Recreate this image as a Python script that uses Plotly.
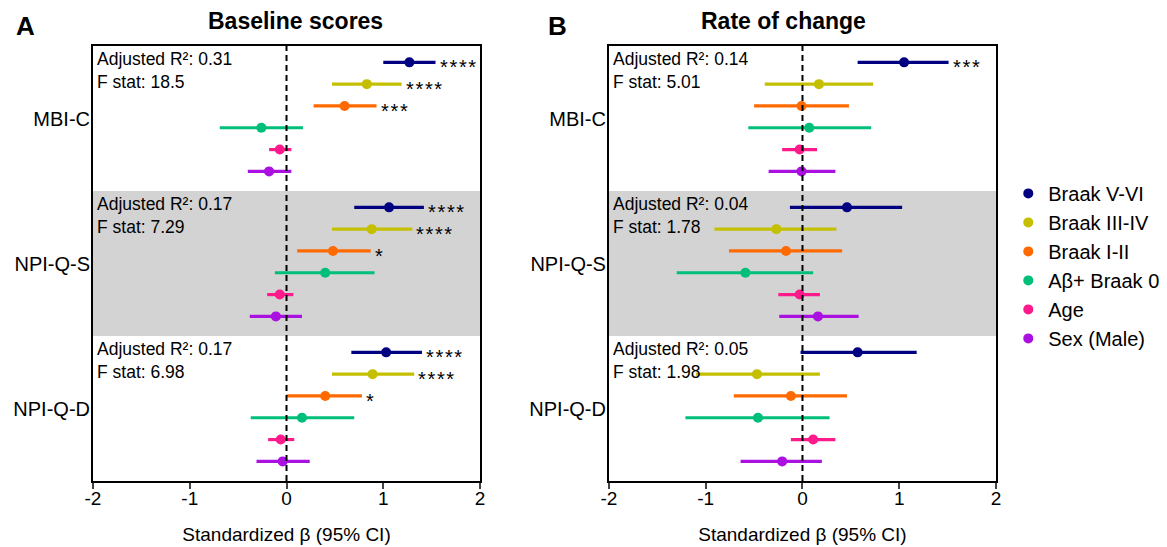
import plotly.graph_objects as go
from plotly.subplots import make_subplots

outcomes = ["MBI-C", "NPI-Q-S", "NPI-Q-D"]
predictors = ["Braak V-VI", "Braak III-IV", "Braak I-II", "Aβ+ Braak 0", "Age", "Sex (Male)"]
colors = ["#000080", "#C4BF00", "#FF6A00", "#00BF7A", "#FF1A8C", "#AA10E0"]

# Panel A: baseline scores (rows = predictors, columns = outcomes)
base_beta = [[1.27, 1.06, 1.03], [0.83, 0.88, 0.89], [0.60, 0.48, 0.40],
             [-0.26, 0.40, 0.16], [-0.07, -0.07, -0.06], [-0.18, -0.11, -0.04]]
base_lo = [[1.00, 0.70, 0.67], [0.47, 0.47, 0.47], [0.28, 0.11, 0.00],
           [-0.69, -0.12, -0.37], [-0.18, -0.20, -0.19], [-0.40, -0.38, -0.31]]
base_hi = [[1.54, 1.42, 1.40], [1.19, 1.30, 1.32], [0.93, 0.87, 0.78],
           [0.17, 0.91, 0.70], [0.05, 0.07, 0.08], [0.05, 0.16, 0.24]]
base_stars = [["****", "****", "****"], ["****", "****", "****"], ["***", "*", "*"],
              ["", "", ""], ["", "", ""], ["", "", ""]]
base_r2 = ["0.31", "0.17", "0.17"]
base_f = ["18.5", "7.29", "6.98"]

# Panel B: rate of change
chg_beta = [[1.05, 0.46, 0.57], [0.17, -0.27, -0.47], [-0.01, -0.17, -0.12],
            [0.07, -0.59, -0.46], [-0.03, -0.03, 0.11], [-0.01, 0.16, -0.21]]
chg_lo = [[0.57, -0.13, -0.02], [-0.39, -0.91, -1.10], [-0.50, -0.76, -0.71],
          [-0.56, -1.30, -1.21], [-0.21, -0.25, -0.12], [-0.35, -0.24, -0.64]]
chg_hi = [[1.51, 1.03, 1.18], [0.73, 0.35, 0.18], [0.48, 0.41, 0.46],
          [0.71, 0.11, 0.28], [0.15, 0.18, 0.34], [0.34, 0.58, 0.20]]
chg_stars = [["***", "", ""], ["", "", ""], ["", "", ""],
             ["", "", ""], ["", "", ""], ["", "", ""]]
chg_r2 = ["0.14", "0.04", "0.05"]
chg_f = ["5.01", "1.78", "1.98"]

x_ticks = [-2, -1, 0, 1, 2]
x_ticktext = ["-2", "-1", "0", "1", "2"]
panel_titles = ["Baseline scores", "Rate of change"]
panel_letters = ["A", "B"]

GROUP = 6.65
PAD = 0.75
YMAX = GROUP * len(outcomes)
FONT = "Liberation Sans, Arial, sans-serif"

fig = make_subplots(rows=1, cols=2, horizontal_spacing=0.1428)

panels = [(base_beta, base_lo, base_hi, base_stars, base_r2, base_f),
          (chg_beta, chg_lo, chg_hi, chg_stars, chg_r2, chg_f)]

for pi, (beta, lo, hi, stars, r2, fs) in enumerate(panels):
    col = pi + 1
    xref = "x" if pi == 0 else "x2"
    yref = "y" if pi == 0 else "y2"
    # grey band for middle outcome
    fig.add_shape(type="rect", xref=f"{xref} domain", yref=yref, x0=0, x1=1,
                  y0=GROUP, y1=2 * GROUP, fillcolor="#D3D3D3", line_width=0, layer="below")
    for k, name in enumerate(predictors):
        ys = [g * GROUP + PAD + k for g in range(len(outcomes))]
        fig.add_trace(go.Scatter(
            x=beta[k], y=ys, mode="markers", name=name, legendgroup=name,
            showlegend=(pi == 0),
            marker=dict(color=colors[k], size=10),
            error_x=dict(type="data", symmetric=False,
                         array=[h - b for h, b in zip(hi[k], beta[k])],
                         arrayminus=[b - l for b, l in zip(beta[k], lo[k])],
                         color=colors[k], thickness=3.2, width=0),
        ), row=1, col=col)
        for g in range(len(outcomes)):
            if stars[k][g]:
                fig.add_annotation(x=hi[k][g], y=ys[g], xref=xref, yref=yref,
                                   text="\u200a".join(stars[k][g]), showarrow=False,
                                   xanchor="left", yanchor="middle", xshift=2, yshift=-5,
                                   font=dict(size=20, color="black", family=FONT))
    for g in range(len(outcomes)):
        fig.add_annotation(x=0, y=g * GROUP, xref=f"{xref} domain", yref=yref,
                           text=f"Adjusted R²: {r2[g]}<br>F stat: {fs[g]}",
                           showarrow=False, xanchor="left", yanchor="top", align="left",
                           xshift=2, yshift=-1,
                           font=dict(size=17.5, color="black", family=FONT))
    # dashed zero line
    fig.add_shape(type="line", xref=xref, yref=f"{yref} domain", x0=0, x1=0, y0=0, y1=1,
                  line=dict(color="black", width=2, dash="6px,4px"))
    fig.update_xaxes(range=[-2, 2], tickvals=x_ticks, ticktext=x_ticktext, ticks="outside",
                     ticklen=6, tickwidth=1.5, showline=True, linewidth=2, linecolor="black",
                     mirror=True, showgrid=False, zeroline=False, automargin=False,
                     ticklabelstandoff=-7,
                     title=dict(text="Standardized β (95% CI)", font=dict(size=19), standoff=20),
                     tickfont=dict(size=19), row=1, col=col)
    fig.update_yaxes(range=[YMAX, 0], tickvals=[g * GROUP + GROUP / 2 for g in range(len(outcomes))],
                     ticktext=outcomes, ticks="", showline=True, linewidth=2, linecolor="black",
                     mirror=True, showgrid=False, zeroline=False, tickfont=dict(size=20),
                     ticklabelstandoff=-3, automargin=False, row=1, col=col)

title_x = [0.2248, 0.765]
letter_x = [-0.075, 0.514]
for pi in range(2):
    fig.add_annotation(x=title_x[pi], y=1.057, xref="paper", yref="paper",
                       text=f"<b>{panel_titles[pi]}</b>", showarrow=False,
                       xanchor="center", yanchor="middle", font=dict(size=23, color="black"))
    fig.add_annotation(x=letter_x[pi], y=1.045, xref="paper", yref="paper",
                       text=f"<b>{panel_letters[pi]}</b>", showarrow=False,
                       xanchor="center", yanchor="middle", font=dict(size=26, color="black"))

# the page body has an 8px margin, so the figure is sized to fit the window from (8, 8)
fig.update_layout(
    width=1159, height=539,
    margin=dict(l=85, r=171, t=38, b=66, autoexpand=False),
    plot_bgcolor="white", paper_bgcolor="white",
    font=dict(family=FONT, color="black", size=19),
    legend=dict(x=1.0136, y=0.706, xanchor="left", yanchor="top", tracegroupgap=0,
                font=dict(size=20), bgcolor="rgba(0,0,0,0)"),
)

fig.write_html("out.html")
